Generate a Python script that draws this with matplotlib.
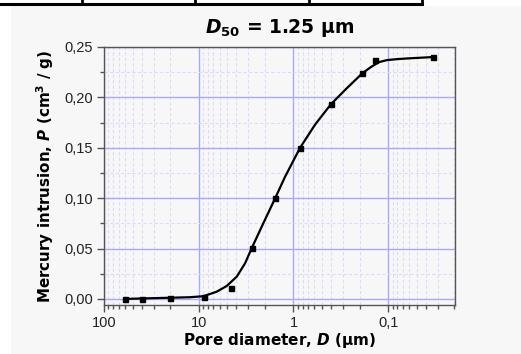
import numpy as np
import matplotlib
matplotlib.use('Agg')
import matplotlib.pyplot as plt
from matplotlib.ticker import FixedLocator, FuncFormatter, LogLocator, MultipleLocator
from matplotlib.patches import Rectangle
from matplotlib.lines import Line2D

# measured points (pore diameter in um, intrusion in cm3/g)
pore_d = [60, 40, 20, 8.9, 4.6, 2.75, 1.56, 0.85, 0.40, 0.187, 0.137, 0.034]
intrusion = [0.0, 0.0004, 0.0012, 0.0017, 0.011, 0.051, 0.100, 0.150, 0.193, 0.224, 0.237, 0.240]

# fitted curve
curve_d = [60, 40, 20, 12.5, 8.93, 6.46, 5.06, 3.97, 3.24, 2.76, 2.08, 1.56, 1.23,
           0.851, 0.591, 0.404, 0.274, 0.187, 0.150, 0.125, 0.103, 0.080, 0.0588, 0.034]
curve_p = [0.0, 0.0005, 0.0012, 0.0017, 0.0027, 0.0072, 0.0129, 0.0221, 0.0354, 0.0503,
           0.0751, 0.0999, 0.121, 0.150, 0.173, 0.193, 0.209, 0.224, 0.2305, 0.2350,
           0.2370, 0.2380, 0.2388, 0.240]

x_ticks = [100, 10, 1, 0.1]
x_ticklabels = ['100', '10', '1', '0,1']

W, H = 521, 354
bg = '#f7f7f7'

fig = plt.figure(figsize=(W / 100, H / 100), dpi=100, facecolor='white')

# grey panel behind the chart and the table border above it
fig.patches.append(Rectangle((11 / W, 0), 1 - 11 / W, 1 - 6 / H, transform=fig.transFigure,
                             facecolor=bg, edgecolor='none', zorder=-10))
yl = 1 - 4 / H
fig.lines.append(Line2D([0, 422 / W], [yl, yl], transform=fig.transFigure, color='black', lw=2.2))
for xv in [82, 195, 309, 422]:
    fig.lines.append(Line2D([xv / W, xv / W], [yl, 1], transform=fig.transFigure, color='black', lw=2))

ax = fig.add_axes([104 / W, 1 - 305 / H, (455 - 104) / W, (305 - 47) / H])
ax.set_facecolor(bg)

ax.plot(curve_d, curve_p, color='black', lw=1.6, zorder=3)
ax.plot(pore_d, intrusion, 's', color='black', ms=3.6, zorder=4)

ax.set_xscale('log')
ax.set_xlim(100, 0.0197)
ax.set_ylim(-0.006, 0.25)

ax.xaxis.set_major_locator(FixedLocator(x_ticks))
ax.xaxis.set_major_formatter(FuncFormatter(lambda v, p: x_ticklabels[x_ticks.index(v)] if v in x_ticks else ''))
ax.xaxis.set_minor_locator(LogLocator(base=10, subs=np.arange(2, 10), numticks=20))
ax.xaxis.set_minor_formatter(FuncFormatter(lambda v, p: ''))
ax.yaxis.set_major_locator(MultipleLocator(0.05))
ax.yaxis.set_minor_locator(MultipleLocator(0.025))
ax.yaxis.set_major_formatter(FuncFormatter(lambda v, p: f'{v:.2f}'.replace('.', ',')))

ax.grid(which='major', color='#a8a8ff', lw=1.0, zorder=0)
ax.grid(which='minor', color='#dcdcfa', lw=0.8, ls=(0, (3, 2)), zorder=0)
ax.set_axisbelow(True)

for s in ax.spines.values():
    s.set_color('#555555')
    s.set_linewidth(1.0)
ax.tick_params(which='major', direction='out', length=5, width=1, color='#555555',
               labelsize=10.5, labelcolor='#222222', pad=3)
ax.tick_params(which='minor', direction='out', length=3, width=1, color='#555555')
for lab in ax.get_xticklabels() + ax.get_yticklabels():
    lab.set_fontfamily('Liberation Sans')

ax.set_title(r'$\mathbfit{D}_{\mathbf{50}}$ = 1.25 μm', fontsize=13.5, fontweight='bold', pad=10)
ax.set_xlabel(r'Pore diameter, $\mathbfit{D}$ (μm)', fontsize=11, fontweight='bold', labelpad=1)
ax.set_ylabel(r'Mercury intrusion, $\mathbfit{P}$ (cm$^{\mathbf{3}}$ / g)', fontsize=10.9,
              fontweight='bold', labelpad=6)

fig.savefig('out.png', dpi=100, facecolor='white')
